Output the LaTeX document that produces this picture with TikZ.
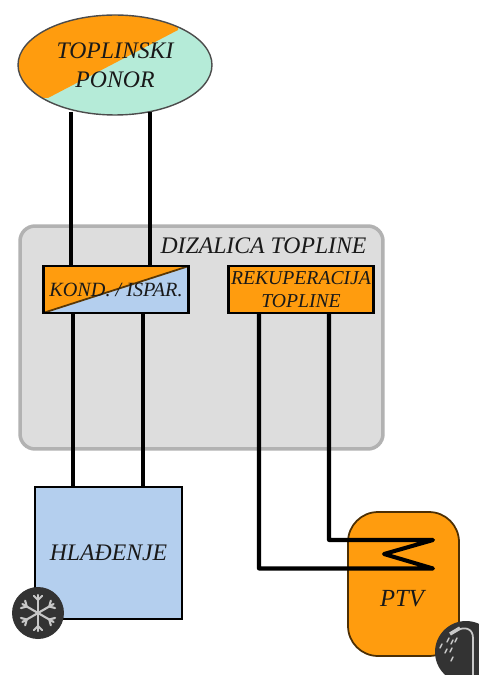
\documentclass[tikz,border=0pt]{standalone}
\usepackage{xcolor}
\usepackage{fontspec}
\setmainfont{Liberation Serif}
\usetikzlibrary{shapes.geometric, positioning}

\definecolor{toplo}{HTML}{FF9C0E}
\definecolor{ponorzelena}{HTML}{B5EBD8}
\definecolor{hladno}{HTML}{B4CFEE}
\definecolor{kucisteSivo}{HTML}{DDDDDD}
\definecolor{rubSivo}{HTML}{B2B2B2}
\definecolor{ikona}{HTML}{333333}
\definecolor{ikonaSvijetla}{HTML}{C8C8C8}

\tikzset{
  oznaka/.style={font=\itshape\fontsize{13.5}{16}\selectfont, inner sep=0pt, text=black!90},
  izmjenjivac/.style={draw=black, line width=1.2pt, minimum width=2.9cm, minimum height=0.94cm, inner sep=0pt},
  cijev/.style={draw=black, line width=2.3pt},
  krakSnijeg/.style={draw=ikonaSvijetla, line width=1.2pt, line cap=round},
}

\begin{document}
\begin{tikzpicture}[x=0.02cm, y=-0.02cm]
        \useasboundingbox (0,0) rectangle (479,675);
        \fill[white] (0,0) rectangle (479,675);

        % kuciste
        \node (dizalica) at (201.5,337.5) [draw=rubSivo, fill=kucisteSivo, line width=2pt, rounded corners=0.3cm,
          minimum width=7.26cm, minimum height=4.46cm] {};
        \node (dizalicaTxt) at (263.5,246) [oznaka] {DIZALICA TOPLINE};

        % ponor
        \begin{scope}
          \clip (18,15) rectangle (212,115);
          \fill[ponorzelena] (115,65) ellipse [x radius=97, y radius=50];
          \clip (115,65) ellipse [x radius=97, y radius=50];
          \fill[toplo] (48,98) -- (178,30) -- (178,15) -- (18,15) -- (18,98) -- cycle;
        \end{scope}
        \node (ponor) at (115,65) [ellipse, draw=black!70, line width=0.8pt,
          minimum width=3.88cm, minimum height=2cm, oznaka, align=center,
          font=\itshape\fontsize{13.5}{16.5}\selectfont] {TOPLINSKI\\PONOR};

        % izmjenjivaci
        \fill[hladno] (43,266) rectangle (189,313);
        \fill[toplo] (43,313) -- (189,266) -- (43,266) -- cycle;
        \draw[black!65!toplo, line width=1pt] (43,313) -- (189,266);
        \node (kond) at (116,289.5) [izmjenjivac, oznaka, font=\itshape\fontsize{11.5}{13}\selectfont]
          {KOND. / ISPAR.};
        \node (rekup) at (301,289.5) [izmjenjivac, fill=toplo, oznaka, align=center,
          font=\itshape\fontsize{11.2}{13}\selectfont] {REKUPERACIJA\\TOPLINE};

        % potrosaci
        \node (hladenje) at (108.5,553) [draw=black, line width=0.9pt, fill=hladno, oznaka,
          minimum width=2.94cm, minimum height=2.64cm] {HLAĐENJE};
        \node (ptv) at (403.5,584) [draw=black!70!toplo, line width=1pt, fill=toplo, rounded corners=0.6cm,
          minimum width=2.22cm, minimum height=2.88cm] {};
        \node (ptvTxt) at (402,599) [oznaka, font=\itshape\fontsize{14}{16}\selectfont] {PTV};

        % ikone
        \node (snijeg) at (38,613) [circle, fill=ikona, minimum size=1.04cm, inner sep=0pt] {};
        \foreach \kut in {30,90,150,210,270,330} {
          \draw[krakSnijeg] (snijeg.center) -- +(\kut:18);
          \draw[krakSnijeg] (snijeg.center) ++(\kut:13) -- +(\kut+45:6);
          \draw[krakSnijeg] (snijeg.center) ++(\kut:13) -- +(\kut-45:6);
        }
        \node (tus) at (466,652) [circle, fill=ikona, minimum size=1.24cm, inner sep=0pt] {};
        \draw[ikonaSvijetla, line width=1pt] (473,675) -- (473,638) .. controls (473,628) and (464,626) .. (456,631);
        \draw[ikonaSvijetla, line width=2pt] (450,634) -- (460,628);
        \foreach \kapX/\kapY in {449/638, 453/640, 457/638, 442/644, 447/649, 452/648, 453/657} {
          \draw[ikonaSvijetla, line width=0.8pt, line cap=round] (\kapX,\kapY) -- +(-2,4);
        }

        % tocke prikljucaka
        \coordinate (ponorL) at (71,112);
        \coordinate (ponorD) at (150,112);
        \coordinate (kondGL) at (71,266);
        \coordinate (kondGD) at (150,266);
        \coordinate (kondDL) at (73,313);
        \coordinate (kondDD) at (143,313);
        \coordinate (hladL) at (73,487);
        \coordinate (hladD) at (143,487);
        \coordinate (rekupL) at (259,313);
        \coordinate (rekupD) at (329,313);
        \coordinate (spiralaA) at (433,568.5);
        \coordinate (spiralaB) at (384,554);
        \coordinate (spiralaC) at (433,540);

        \begin{scope}[every path/.style={cijev}]
          \path (ponorL) -- (kondGL);
          \path (ponorD) -- (kondGD);
          \path (kondDL) -- (hladL);
          \path (kondDD) -- (hladD);
          \path[line join=round] (rekupL) |- (spiralaA) -- (spiralaB) -- (spiralaC) -| (rekupD);
        \end{scope}
      \end{tikzpicture}
\end{document}
